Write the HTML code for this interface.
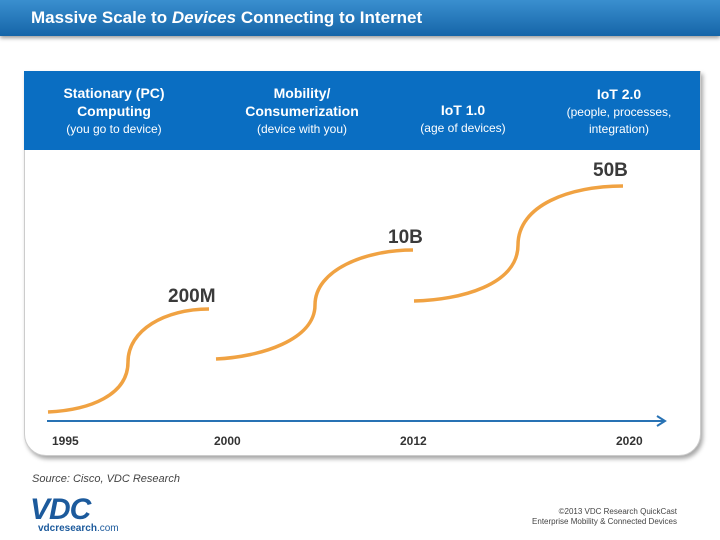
<!DOCTYPE html>
<html><head><meta charset="utf-8"><style>
body{margin:0;width:720px;height:540px;background:#fff;position:relative;overflow:hidden;font-family:"Liberation Sans",sans-serif}
.title{position:absolute;left:0;top:0;width:720px;height:36px;background:linear-gradient(#3a8fcf,#1565a8);box-shadow:0 2px 4px rgba(0,0,0,.4)}
.title span{position:absolute;left:31px;top:8px;color:#fff;font-size:17px;font-weight:bold}
.panel{position:absolute;left:24px;top:71px;width:675px;height:383px;border:1px solid #ccc;border-radius:0 0 22px 22px;box-shadow:2px 3px 4px rgba(0,0,0,.35);background:#fff}
.hdr{position:absolute;left:24px;top:71px;width:676px;height:79px;background:#0a6ec2}
.h{position:absolute;color:#fff;text-align:center;font-size:12px;line-height:17px;width:170px}
.h b{font-size:14px}
.lbl{position:absolute;font-weight:bold;color:#3a3a3a;font-size:19px}
.yr{position:absolute;top:434px;font-weight:bold;font-size:12px;color:#333}
</style></head><body>
<div class="title"><span>Massive Scale to <i>Devices</i> Connecting to Internet</span></div>
<div class="panel"></div>
<div class="hdr"></div>
<div class="h" style="left:29px;top:85px"><b>Stationary (PC)<br>Computing</b><br>(you go to device)</div>
<div class="h" style="left:217px;top:85px"><b>Mobility/<br>Consumerization</b><br>(device with you)</div>
<div class="h" style="left:378px;top:102px"><b>IoT 1.0</b><br>(age of devices)</div>
<div class="h" style="left:534px;top:86px"><b>IoT 2.0</b><br>(people, processes,<br>integration)</div>
<svg style="position:absolute;left:0;top:0" width="720" height="540">
<g fill="none" stroke="#f0a242" stroke-width="3.5" stroke-linecap="butt">
<path d="M48 412 C90 410 128 395 128 362 C128 330 165 309 209 309"/>
<path d="M216 359 C260 357 315 340 315 305 C315 270 365 250 413 250"/>
<path d="M414 301 C460 300 518 285 518 245 C518 205 570 186 623 186"/>
</g>
<line x1="47" y1="421" x2="664" y2="421" stroke="#2872b4" stroke-width="2"/>
<path d="M657 416 L665 421 L657 426" fill="none" stroke="#2872b4" stroke-width="2"/>
</svg>
<div class="lbl" style="left:168px;top:286px">200M</div>
<div class="lbl" style="left:388px;top:227px">10B</div>
<div class="lbl" style="left:593px;top:160px">50B</div>
<div class="yr" style="left:52px">1995</div>
<div class="yr" style="left:214px">2000</div>
<div class="yr" style="left:400px">2012</div>
<div class="yr" style="left:616px">2020</div>
<div style="position:absolute;left:32px;top:473px;font-size:11px;font-style:italic;color:#444">Source: Cisco, VDC Research</div>
<div style="position:absolute;left:30px;top:496px;font-size:30px;font-weight:bold;font-style:italic;color:#1c5a9c;letter-spacing:-1px;line-height:28px">VDC</div>
<div style="position:absolute;left:38px;top:523px;font-size:10px;color:#1c5a9c"><b>vdcresearch</b>.com</div>
<div style="position:absolute;right:43px;top:507px;font-size:8px;color:#444;text-align:right;line-height:10px">©2013 VDC Research QuickCast<br>Enterprise Mobility &amp; Connected Devices</div>
</body></html>
